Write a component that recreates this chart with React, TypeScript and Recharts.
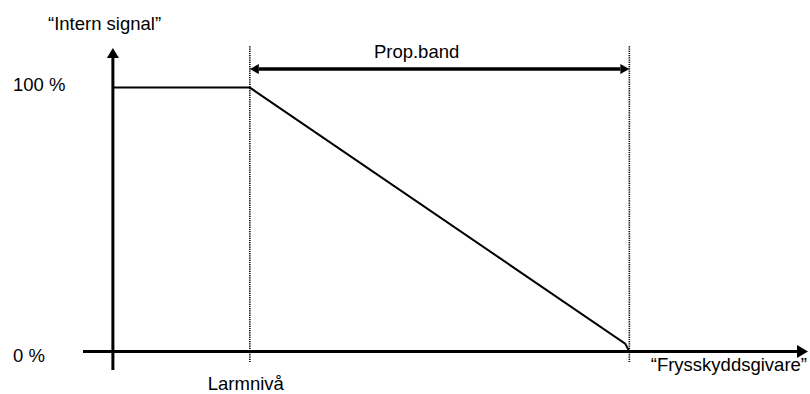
import React from 'react';
import { LineChart, Line, XAxis, YAxis, ReferenceLine } from 'recharts';

// Styrsignal mot frysskyddsgivare
const signalX = [0, 19.7, 73.7, 74.3];
const signalY = [100, 100, 3, 0];
const larmLevel = 19.7;
const bandEnd = 74.3;
const xDomain = [-4.3, 100];
const yDomain = [-7, 115];
const yTicks = [0, 100];
const yTickLabels = ['0 %', '100 %'];
const xTicks = [larmLevel];
const xTickLabels = ['Larmnivå'];
const yTitle = '\u201CIntern signal\u201D';
const xTitle = '\u201CFrysskyddsgivare\u201D';
const bandTitle = 'Prop.band';

const data = signalX.map((x, i) => ({ x, y: signalY[i] }));

const FONT = "'Liberation Sans', Arial, sans-serif";
const FS = 18.5;

// pil: linje med pilspets i slutet (och ev. i början)
const Arrow = (props: any) => {
  const { x1, y1, x2, y2, width = 3, head = 10, half = 6, both = false, label } = props;
  const dx = x2 - x1;
  const dy = y2 - y1;
  const len = Math.sqrt(dx * dx + dy * dy) || 1;
  const ux = dx / len;
  const uy = dy / len;
  const head2 = (tx: number, ty: number, sx: number, sy: number) => {
    const bx = tx - sx * head;
    const by = ty - sy * head;
    return `${tx},${ty} ${bx - sy * half},${by + sx * half} ${bx + sy * half},${by - sx * half}`;
  };
  const sx1 = both ? x1 + ux * head : x1;
  const sy1 = both ? y1 + uy * head : y1;
  return (
    <g>
      <line x1={sx1} y1={sy1} x2={x2 - ux * head} y2={y2 - uy * head} stroke="#000" strokeWidth={width} />
      <polygon points={head2(x2, y2, ux, uy)} fill="#000" />
      {both && <polygon points={head2(x1, y1, -ux, -uy)} fill="#000" />}
      {label && (
        <text x={(x1 + x2) / 2 - 23} y={y1 - 11.5} textAnchor="middle" fontFamily={FONT} fontSize={FS} fill="#000">
          {label}
        </text>
      )}
    </g>
  );
};

const YTick = (props: any) => {
  const { y, payload } = props;
  const i = yTicks.indexOf(payload.value);
  return (
    <text x={13} y={y + (payload.value === 0 ? 10 : 3.5)} fontFamily={FONT} fontSize={FS} fill="#000">
      {yTickLabels[i]}
    </text>
  );
};

const XTick = (props: any) => {
  const { x, y, payload } = props;
  const i = xTicks.indexOf(payload.value);
  return (
    <text x={x - 4} y={y + 20} textAnchor="middle" fontFamily={FONT} fontSize={FS} fill="#000">
      {xTickLabels[i]}
    </text>
  );
};

const App: React.FC = () => {
  return (
    <div style={{ position: 'absolute', left: 0, top: 0, width: 810, height: 394, background: '#fff' }}>
      <LineChart width={810} height={394} data={data} margin={{ top: 48, right: 2, bottom: 0, left: 0 }}>
        <XAxis
          type="number"
          dataKey="x"
          domain={xDomain}
          ticks={xTicks}
          interval={0}
          height={24}
          axisLine={false}
          tickLine={false}
          tickSize={0}
          tickMargin={0}
          tick={<XTick />}
          label={{
            content: (p: any) => (
              <text
                x={p.viewBox.x + p.viewBox.width - 1}
                y={p.viewBox.y + 0.5}
                textAnchor="end"
                fontFamily={FONT}
                fontSize={FS}
                fill="#000"
              >
                {xTitle}
              </text>
            ),
          }}
        />
        <YAxis
          type="number"
          domain={yDomain}
          ticks={yTicks}
          width={83}
          axisLine={false}
          tickLine={false}
          tickSize={0}
          tickMargin={0}
          tick={<YTick />}
          label={{
            content: (p: any) => (
              <text x={48} y={p.viewBox.y - 18} fontFamily={FONT} fontSize={FS} fill="#000">
                {yTitle}
              </text>
            ),
          }}
        />
        {/* prickade hjälplinjer */}
        <ReferenceLine
          segment={[{ x: larmLevel, y: -4 }, { x: larmLevel, y: 116 }]}
          stroke="#000"
          strokeWidth={1.6}
          strokeDasharray="1.2 1"
          ifOverflow="visible"
        />
        <ReferenceLine
          segment={[{ x: bandEnd, y: -4 }, { x: bandEnd, y: 116 }]}
          stroke="#000"
          strokeWidth={1.6}
          strokeDasharray="1.2 1"
          ifOverflow="visible"
        />
        {/* axlar med pilar */}
        <ReferenceLine
          segment={[{ x: xDomain[0], y: 0 }, { x: xDomain[1], y: 0 }]}
          ifOverflow="visible"
          shape={(p: any) => <Arrow {...p} width={3} head={11} half={6.5} />}
        />
        <ReferenceLine
          segment={[{ x: 0, y: yDomain[0] }, { x: 0, y: yDomain[1] }]}
          ifOverflow="visible"
          shape={(p: any) => <Arrow {...p} width={3} head={10} half={6} />}
        />
        {/* proportionalband */}
        <ReferenceLine
          segment={[{ x: larmLevel, y: 107 }, { x: bandEnd, y: 107 }]}
          ifOverflow="visible"
          shape={(p: any) => <Arrow {...p} width={3.5} head={9} half={5} both label={bandTitle} />}
        />
        <Line type="linear" dataKey="y" stroke="#000" strokeWidth={2} dot={false} isAnimationActive={false} />
      </LineChart>
    </div>
  );
};

export default App;
